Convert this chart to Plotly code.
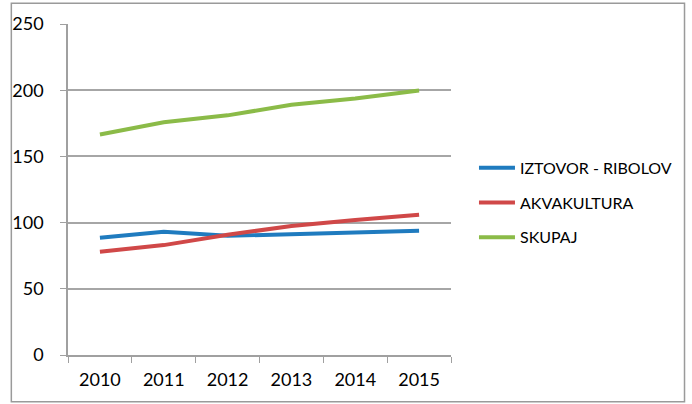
import plotly.graph_objects as go

years = ["2010", "2011", "2012", "2013", "2014", "2015"]
iztovor = [88.5, 93, 90, 91.5, 92.3, 93.8]
akvakultura = [78, 83, 90.8, 97.5, 102, 106]
skupaj = [166.5, 175.8, 181, 189, 193.7, 199.8]
names = ["IZTOVOR - RIBOLOV", "AKVAKULTURA", "SKUPAJ"]
colors = ["#1F7BBF", "#D04848", "#8BBB48"]

fig = go.Figure()
for name, vals, col in zip(names, [iztovor, akvakultura, skupaj], colors):
    fig.add_trace(go.Scatter(x=years, y=vals, mode="lines", name=name,
                             legendgroup=name,
                             line=dict(color=col, width=4)))

W, H = 692, 404
ml, mr, mt, mb = 59, 241, 22, 49
pw, ph = W - ml - mr, H - mt - mb

fig.update_layout(
    width=W, height=H,
    margin=dict(l=ml, r=mr, t=mt, b=mb),
    paper_bgcolor="white", plot_bgcolor="white",
    font=dict(family="Lato, Open Sans, sans-serif", size=18, color="#000"),
    showlegend=True,
    legend=dict(x=1.06, y=0.46, xanchor="left", yanchor="middle",
                font=dict(size=16, color="#000"), tracegroupgap=11, itemwidth=36),
    xaxis=dict(type="category", range=[-0.5, 5.5], showgrid=False,
               showline=True, linecolor="#A0A0A0", linewidth=1.5,
               ticks="outside", tickson="boundaries", ticklen=6,
               tickcolor="#A0A0A0", ticklabelstandoff=8),
    yaxis=dict(range=[0, 250], dtick=50, showgrid=True, gridcolor="#A6A6A6",
               gridwidth=1.5, showline=True, linecolor="#A0A0A0", linewidth=1.5,
               ticks="outside", ticklen=6, tickcolor="#A0A0A0",
               ticklabelstandoff=13, zeroline=False),
    shapes=[dict(type="rect", xref="paper", yref="paper",
                 x0=-(ml - 1) / pw, x1=1 + (mr - 2) / pw,
                 y0=-(mb - 2) / ph, y1=1 + (mt - 1) / ph,
                 line=dict(color="#9A9A9A", width=1.5))],
)

fig.write_html("out.html", config={"displayModeBar": False},
               post_script="document.body.style.margin='0';")
